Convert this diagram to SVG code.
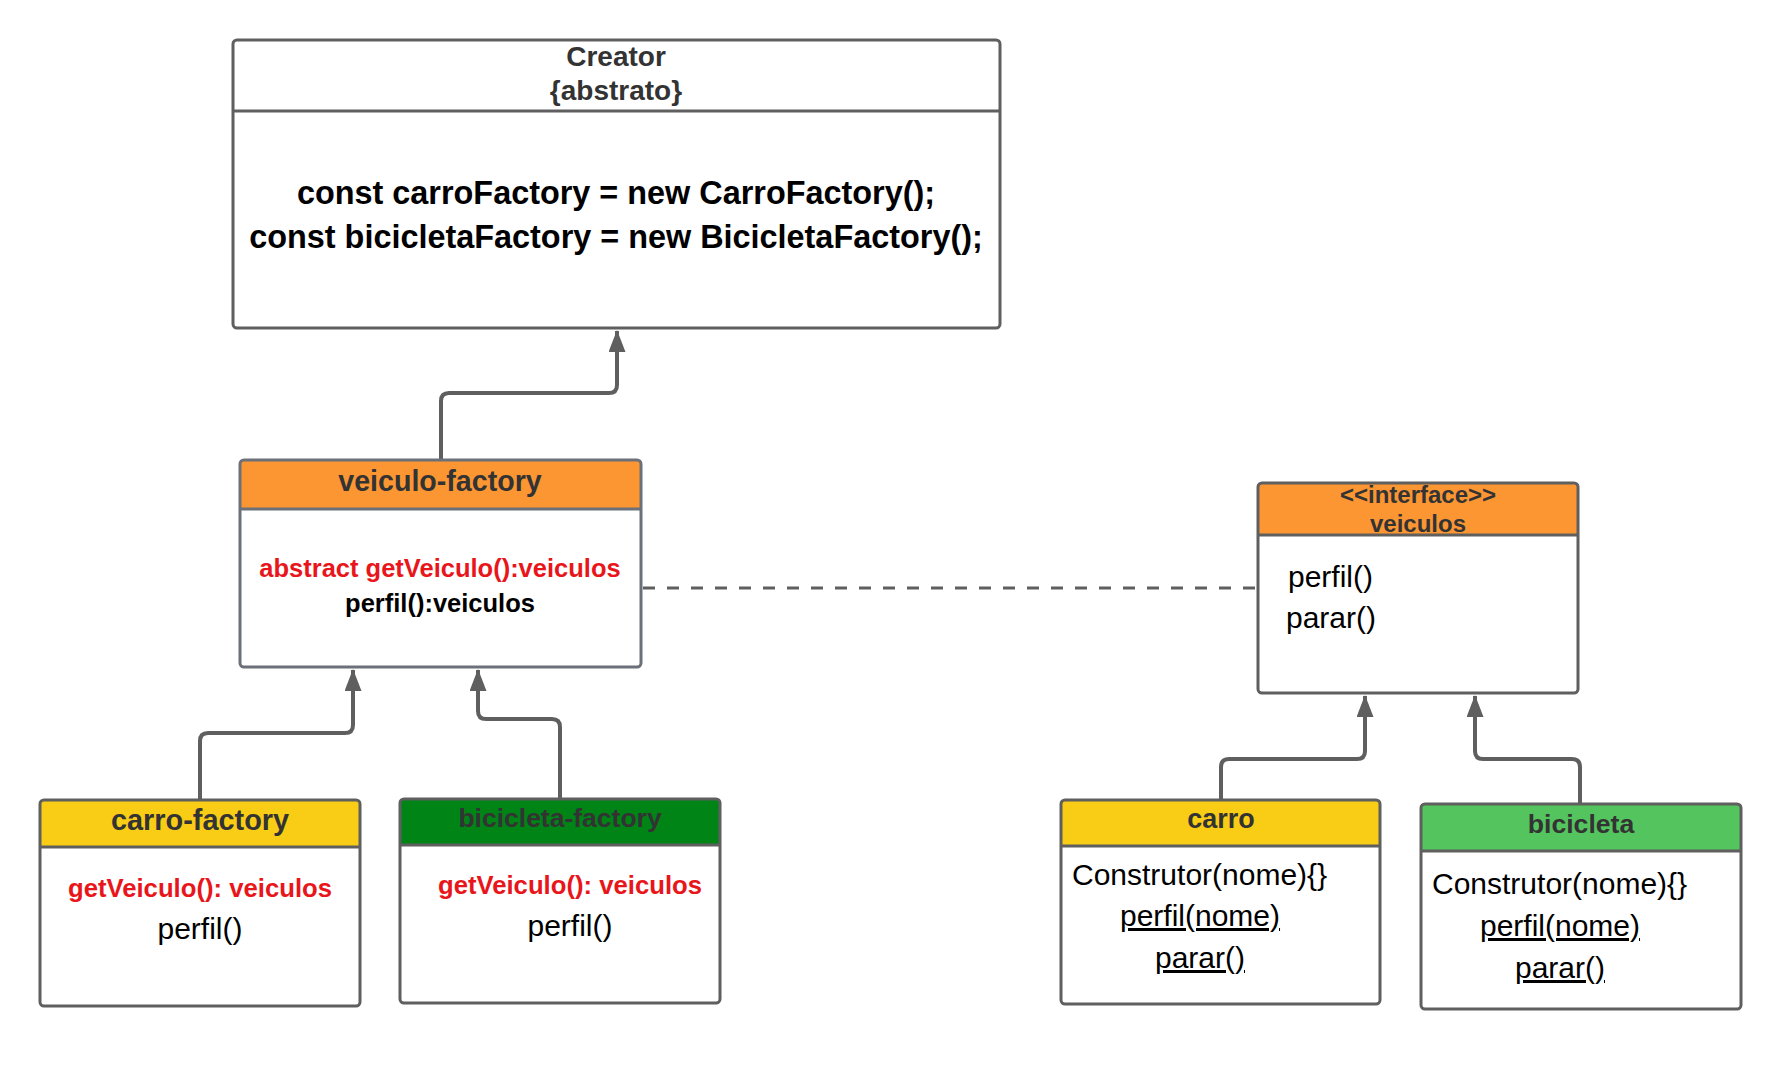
<svg xmlns="http://www.w3.org/2000/svg" width="1780" height="1073" viewBox="0 0 1780 1073">
<style>
.box{fill:none;stroke:#5f5f5f;stroke-width:3}
.bg{fill:#ffffff}
.div{stroke:#5f5f5f;stroke-width:3}
.t{font-family:"Liberation Sans",Arial,sans-serif;text-anchor:middle}
.s{font-family:"Liberation Sans",Arial,sans-serif}
.title{font-weight:bold;fill:#333333}
.red{font-weight:bold;fill:#e8161b}
.blk{fill:#000000}
.b{font-weight:bold}
.conn{fill:none;stroke:#5f5f5f;stroke-width:4}
.u{text-decoration:underline}
</style>
<defs>
<marker id="arr" markerUnits="userSpaceOnUse" viewBox="0 0 22 17" refX="21" refY="8.5" markerWidth="22" markerHeight="17" orient="auto">
<path d="M0,0 L22,8.5 L0,17 z" fill="#5f5f5f"/>
</marker>
</defs>
<rect width="1780" height="1073" fill="#ffffff"/>

<g id="connectors">
<path class="conn" d="M 441 460 V 401 Q 441 393 449 393 H 609 Q 617 393 617 385 V 331" marker-end="url(#arr)"/>
<path class="conn" d="M 200 800 V 741 Q 200 733 208 733 H 345 Q 353 733 353 725 V 670" marker-end="url(#arr)"/>
<path class="conn" d="M 560 799 V 727 Q 560 719 552 719 H 486 Q 478 719 478 711 V 670" marker-end="url(#arr)"/>
<path class="conn" d="M 1221 800 V 767 Q 1221 759 1229 759 H 1357 Q 1365 759 1365 751 V 696" marker-end="url(#arr)"/>
<path class="conn" d="M 1580 804 V 767 Q 1580 759 1572 759 H 1483 Q 1475 759 1475 751 V 696" marker-end="url(#arr)"/>
<path d="M 643 588 H 1258" fill="none" stroke="#5f5f5f" stroke-width="3" stroke-dasharray="12 12"/>
</g>

<g id="creator">
<rect class="bg" x="233" y="40" width="767" height="288" rx="4"/>
<rect class="box" x="233" y="40" width="767" height="288" rx="4"/>
<line class="div" x1="233" y1="111" x2="1000" y2="111"/>
<text class="t title" x="616" y="66" font-size="28">Creator</text>
<text class="t title" x="616" y="100" font-size="28">{abstrato}</text>
<text class="t b blk" x="616" y="204" font-size="32.4">const carroFactory = new CarroFactory();</text>
<text class="t b blk" x="616" y="248" font-size="32.4">const bicicletaFactory = new BicicletaFactory();</text>
</g>

<g id="veiculo-factory">
<rect class="bg" x="240" y="460" width="401" height="207" rx="4"/>
<path d="M 240 509 V 464 Q 240 460 244 460 H 637 Q 641 460 641 464 V 509 Z" fill="#fc9633"/>
<rect x="240" y="460" width="401" height="207" rx="4" fill="none" stroke="#6b7079" stroke-width="3"/>
<line x1="240" y1="509" x2="641" y2="509" stroke="#6b7079" stroke-width="3"/>
<text class="t title" x="440" y="491" font-size="28.6">veiculo-factory</text>
<text class="t red" x="440" y="577" font-size="25.5">abstract getVeiculo():veiculos</text>
<text class="t b blk" x="440" y="612" font-size="25.5">perfil():veiculos</text>
</g>

<g id="veiculos">
<rect class="bg" x="1258" y="483" width="320" height="210" rx="4"/>
<path d="M 1258 535 V 487 Q 1258 483 1262 483 H 1574 Q 1578 483 1578 487 V 535 Z" fill="#fc9633"/>
<rect class="box" x="1258" y="483" width="320" height="210" rx="4"/>
<line class="div" x1="1258" y1="535" x2="1578" y2="535"/>
<text class="t title" x="1418" y="503" font-size="24">&lt;&lt;interface&gt;&gt;</text>
<text class="t title" x="1418" y="532" font-size="24">veiculos</text>
<text class="s blk" x="1288" y="587" font-size="30">perfil()</text>
<text class="s blk" x="1286" y="628" font-size="30">parar()</text>
</g>

<g id="carro-factory">
<rect class="bg" x="40" y="800" width="320" height="206" rx="4"/>
<path d="M 40 847 V 804 Q 40 800 44 800 H 356 Q 360 800 360 804 V 847 Z" fill="#f9cd15"/>
<rect class="box" x="40" y="800" width="320" height="206" rx="4"/>
<line class="div" x1="40" y1="847" x2="360" y2="847"/>
<text class="t title" x="200" y="830" font-size="28.9">carro-factory</text>
<text class="t red" x="200" y="897" font-size="25.7">getVeiculo(): veiculos</text>
<text class="t blk" x="200" y="939" font-size="30">perfil()</text>
</g>

<g id="bicicleta-factory">
<rect class="bg" x="400" y="799" width="320" height="204" rx="4"/>
<path d="M 400 845 V 803 Q 400 799 404 799 H 716 Q 720 799 720 803 V 845 Z" fill="#008416"/>
<rect class="box" x="400" y="799" width="320" height="204" rx="4"/>
<line class="div" x1="400" y1="845" x2="720" y2="845"/>
<text class="t title" x="560" y="827" font-size="26.5">bicicleta-factory</text>
<text class="t red" x="570" y="894" font-size="25.7">getVeiculo(): veiculos</text>
<text class="t blk" x="570" y="936" font-size="30">perfil()</text>
</g>

<g id="carro">
<rect class="bg" x="1061" y="800" width="319" height="204" rx="4"/>
<path d="M 1061 846 V 804 Q 1061 800 1065 800 H 1376 Q 1380 800 1380 804 V 846 Z" fill="#f9cd15"/>
<rect class="box" x="1061" y="800" width="319" height="204" rx="4"/>
<line class="div" x1="1061" y1="846" x2="1380" y2="846"/>
<text class="t title" x="1221" y="828" font-size="26.9">carro</text>
<text class="s blk" x="1072" y="885" font-size="30">Construtor(nome){}</text>
<text class="t blk u" x="1200" y="926" font-size="30">perfil(nome)</text>
<text class="t blk u" x="1200" y="968" font-size="30">parar()</text>
</g>

<g id="bicicleta">
<rect class="bg" x="1421" y="804" width="320" height="205" rx="4"/>
<path d="M 1421 851 V 808 Q 1421 804 1425 804 H 1737 Q 1741 804 1741 808 V 851 Z" fill="#54c45e"/>
<rect class="box" x="1421" y="804" width="320" height="205" rx="4"/>
<line class="div" x1="1421" y1="851" x2="1741" y2="851"/>
<text class="t title" x="1581" y="833" font-size="26.6">bicicleta</text>
<text class="s blk" x="1432" y="894" font-size="30">Construtor(nome){}</text>
<text class="t blk u" x="1560" y="936" font-size="30">perfil(nome)</text>
<text class="t blk u" x="1560" y="978" font-size="30">parar()</text>
</g>
</svg>
